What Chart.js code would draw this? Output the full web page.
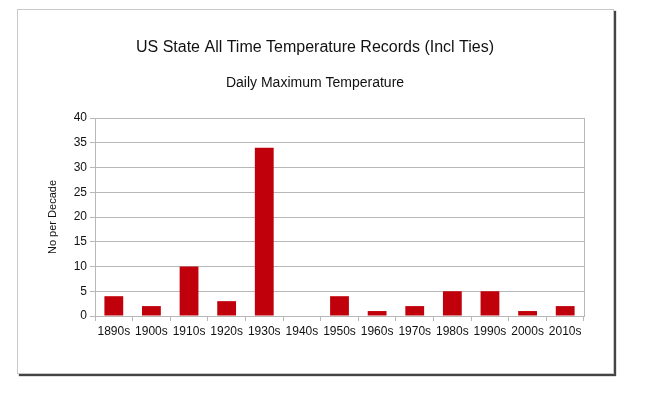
<!DOCTYPE html>
<html>
<head>
<meta charset="utf-8">
<script src="https://cdn.jsdelivr.net/npm/chart.js@4"></script>
<style>
  html, body { margin: 0; padding: 0; background: #fff; }
  #wrap { position: relative; width: 662px; height: 394px; }
  #frame {
    position: absolute; left: 17px; top: 9px; width: 595px; height: 363px;
    border: 1px solid #c8c8c8; box-shadow: 2px 2px 1px #444; background: #fff;
  }
  canvas { position: absolute; left: 0; top: 0; }
</style>
</head>
<body>
<div id="wrap">
  <div id="frame"></div>
  <canvas id="chart" width="662" height="394"></canvas>
</div>
<script>
// decades and record counts (daily maximum temperature)
const decades = ["1890s", "1900s", "1910s", "1920s", "1930s", "1940s", "1950s",
  "1960s", "1970s", "1980s", "1990s", "2000s", "2010s"];
const records = [4, 2, 10, 3, 34, 0, 4, 1, 2, 5, 5, 1, 2];

const gridColor = "#b8b8b8";
const font = "'Liberation Sans', Arial, sans-serif";

const chart = new Chart(document.getElementById("chart"), {
  type: "bar",
  data: {
    labels: decades,
    datasets: [{
      data: records,
      backgroundColor: "#c0000a",
      borderWidth: 0,
      categoryPercentage: 1,
      barPercentage: 0.5,
    }],
  },
  options: {
    responsive: false,
    animation: false,
    layout: { padding: { left: 46, right: 78, top: 0, bottom: 48 } },
    plugins: {
      legend: { display: false },
      tooltip: { enabled: false },
      title: {
        display: true,
        text: "US State All Time Temperature Records (Incl Ties)",
        color: "#111",
        font: { family: font, size: 16, weight: "normal" },
        padding: { top: 38, bottom: 8 },
      },
      subtitle: {
        display: true,
        text: "Daily Maximum Temperature",
        color: "#111",
        font: { family: font, size: 14, weight: "normal" },
        padding: { top: 10, bottom: 26 },
      },
    },
    scales: {
      x: {
        grid: {
          offset: true,
          drawOnChartArea: false,
          drawTicks: true,
          tickLength: 5,
          color: gridColor,
        },
        border: { color: gridColor },
        ticks: { color: "#111", font: { family: font, size: 12 }, padding: 3, maxRotation: 0 },
        afterFit: (scale) => { scale.height = 30; },
      },
      y: {
        min: 0,
        max: 40,
        ticks: { stepSize: 5, color: "#111", font: { family: font, size: 12 }, padding: 3 },
        grid: { color: gridColor, tickLength: 5 },
        border: { color: gridColor },
        title: {
          display: true,
          text: "No per Decade",
          color: "#111",
          font: { family: font, size: 11 },
          padding: { top: 0, bottom: 0 },
        },
        afterFit: (scale) => { scale.width = 49; },
      },
      yRight: {
        position: "right",
        min: 0,
        max: 40,
        ticks: { display: false },
        grid: { display: false, drawTicks: false },
        border: { display: true, color: gridColor },
        afterFit: (scale) => { scale.width = 0; },
      },
    },
  },
});
</script>
</body>
</html>
